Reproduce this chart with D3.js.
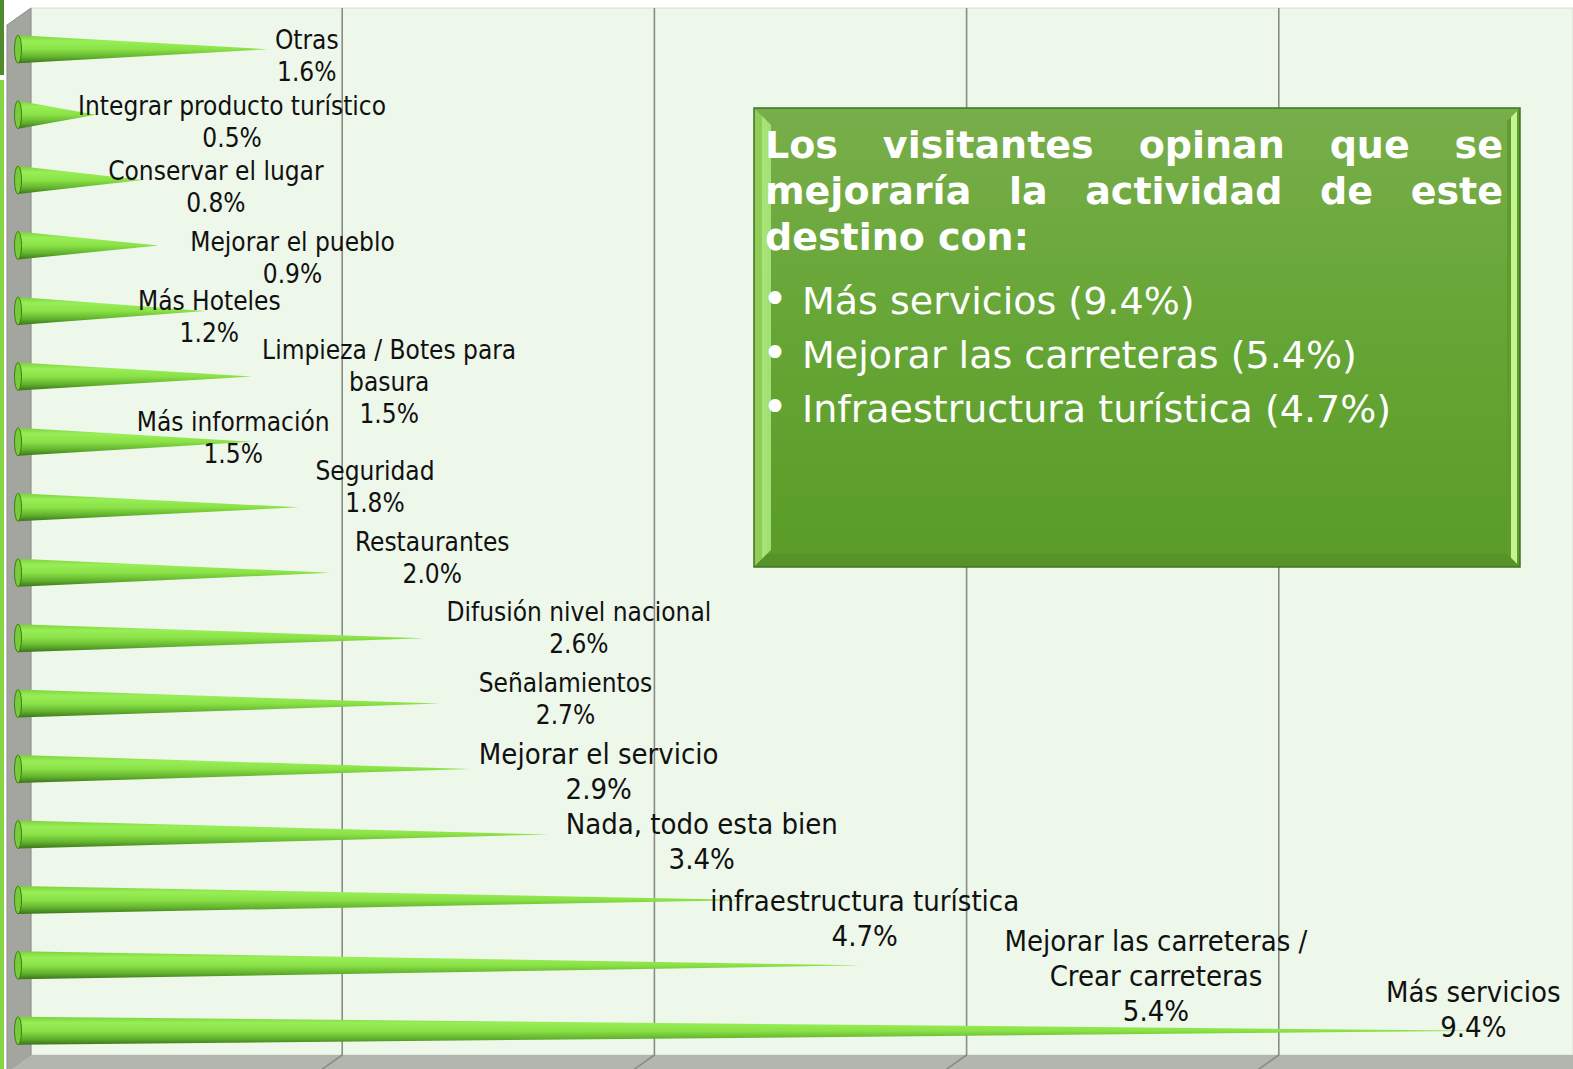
<!DOCTYPE html>
<head>
<meta charset="utf-8">
<style>
body{margin:0;background:white;overflow:hidden;}
text{font-family:"DejaVu Sans Condensed","DejaVu Sans",sans-serif;font-stretch:condensed;}
.box text{font-family:"DejaVu Sans",sans-serif;font-stretch:normal;}
.grid{stroke:#8a8c88;stroke-width:1.6px;fill:none;}
.lbl{fill:#111;}
</style>
</head>
<body>
<svg width="1573" height="1069"></svg>
<script src="https://d3js.org/d3.v7.min.js"></script>
<script>

// chart data (top to bottom as drawn)
var categories = ["Otras", "Integrar producto turístico", "Conservar el lugar", "Mejorar el pueblo",
  "Más Hoteles", "Limpieza / Botes para\nbasura", "Más información", "Seguridad", "Restaurantes",
  "Difusión nivel nacional", "Señalamientos", "Mejorar el servicio", "Nada, todo esta bien",
  "infraestructura turística", "Mejorar las carreteras /\nCrear carreteras", "Más servicios"];
var values = [1.6, 0.5, 0.8, 0.9, 1.2, 1.5, 1.5, 1.8, 2.0, 2.6, 2.7, 2.9, 3.4, 4.7, 5.4, 9.4];
var tickValues = [2, 4, 6, 8];

// where excel left each data label, relative to the cone tip
var labelOffset = [[39,-10],[136,-9],[73,-9],[134,-4],[4,-10],[137,-27],[-19,-20],[76,-37],
  [102,-31],[155,-27],[126,-21],[128,-15],[153,-11],[113,1],[295,-25],[-12,-39]];

var summaryTitle = [["Los", "visitantes", "opinan", "que", "se"],
  ["mejoraría", "la", "actividad", "de", "este"],
  ["destino", "con:"]];
var summaryItems = ["Más servicios (9.4%)", "Mejorar las carreteras (5.4%)", "Infraestructura turística (4.7%)"];

var svg = d3.select("svg"),
    width = +svg.attr("width"),
    height = +svg.attr("height");

// 3d box: front plane -> back plane offset
var DX = 24, DY = -17;
var front = {left: 7, top: 25, bottom: 1072};
var back = {left: front.left + DX, top: front.top + DY, bottom: front.bottom + DY};

// mid plane, where the cones live
var x = d3.scaleLinear().domain([0, 10]).range([18, 18 + 1561]);
var y = d3.scaleBand().domain(categories).range([front.top + DY / 2, front.bottom + DY / 2]);

var defs = svg.append("defs");
var g1 = defs.append("linearGradient").attr("id", "cone").attr("x1", 0).attr("y1", 0).attr("x2", 0).attr("y2", 1);
[[0, "#7cd23a"], [0.22, "#98ee56"], [0.5, "#8be247"], [0.78, "#62b22e"], [1, "#3b7318"]].forEach(function(s) {
  g1.append("stop").attr("offset", s[0]).attr("stop-color", s[1]);
});
var g2 = defs.append("linearGradient").attr("id", "face").attr("x1", 0).attr("y1", 0).attr("x2", 0).attr("y2", 1);
[[0, "#78ae4a"], [0.5, "#65a535"], [1, "#5a9c27"]].forEach(function(s) {
  g2.append("stop").attr("offset", s[0]).attr("stop-color", s[1]);
});

// slide edge strip
svg.append("rect").attr("x", 0).attr("y", 0).attr("width", 4).attr("height", 75).attr("fill", "#4f8a2b");
svg.append("rect").attr("x", 0).attr("y", 80).attr("width", 4).attr("height", height - 80).attr("fill", "#84d444");

// back wall
svg.append("rect")
  .attr("x", back.left).attr("y", back.top)
  .attr("width", width - back.left).attr("height", back.bottom - back.top)
  .attr("fill", "#edf7ea").attr("stroke", "#d6dcd3").attr("stroke-width", 1);

// left wall
svg.append("polygon")
  .attr("points", [[front.left, front.top], [back.left, back.top], [back.left, back.bottom], [front.left, front.bottom]].join(" "))
  .attr("fill", "#a3a69f").attr("stroke", "#8c8f89").attr("stroke-width", 1);

// floor
svg.append("polygon")
  .attr("points", [[back.left, back.bottom], [width, back.bottom], [width, front.bottom], [front.left, front.bottom]].join(" "))
  .attr("fill", "#b1b6ae");

// gridlines on wall and floor
var gl = svg.append("g");
tickValues.forEach(function(t) {
  var bx = x(t) + DX / 2;
  gl.append("path").attr("class", "grid")
    .attr("d", "M" + bx + "," + back.top + "V" + back.bottom + "L" + (bx - DX) + "," + (back.bottom - DY));
});

// cones
var R = 14;
var cones = svg.append("g").selectAll("g")
  .data(values)
  .enter().append("g");

cones.append("path")
  .attr("d", function(d, i) {
    var cy = y(categories[i]) + y.bandwidth() / 2;
    return "M" + x(0) + "," + (cy - R) + "L" + x(d) + "," + cy + "L" + x(0) + "," + (cy + R) + "Z";
  })
  .attr("fill", "url(#cone)");

cones.append("ellipse")
  .attr("cx", x(0))
  .attr("cy", function(d, i) { return y(categories[i]) + y.bandwidth() / 2; })
  .attr("rx", 3.5).attr("ry", R)
  .attr("fill", "#78cc3a").attr("stroke", "#3f7a1a").attr("stroke-width", 1);

// data labels
var fmt = d3.format(".1f");
var labels = svg.append("g").selectAll("text")
  .data(values)
  .enter().append("text")
  .attr("class", "lbl")
  .attr("text-anchor", "middle")
  .style("font-size", function(d, i) { return i >= 11 ? "29px" : "26px"; })
  .attr("transform", function(d, i) {
    var cy = y(categories[i]) + y.bandwidth() / 2;
    return "translate(" + (x(d) + labelOffset[i][0]) + "," + (cy + labelOffset[i][1]) + ")";
  });

labels.each(function(d, i) {
  var lines = categories[i].split("\n").concat([fmt(d) + "%"]);
  var lh = i >= 11 ? 35 : 32;
  d3.select(this).selectAll("tspan")
    .data(lines)
    .enter().append("tspan")
    .attr("x", 0)
    .attr("y", function(t, k) { return k * lh; })
    .attr("dy", "0.36em")
    .text(function(t) { return t; });
});

// summary box
var box = {x: 754, y: 108, w: 766, h: 459, b: 13};
var sb = svg.append("g").attr("class", "box");
sb.append("rect").attr("x", box.x).attr("y", box.y).attr("width", box.w).attr("height", box.h)
  .attr("fill", "url(#face)");
var bx0 = box.x, by0 = box.y, bx1 = box.x + box.w, by1 = box.y + box.h, b = box.b;
sb.append("polygon").attr("points", [[bx0, by0], [bx0 + b, by0 + b], [bx0 + b, by1 - b], [bx0, by1]].join(" "))
  .attr("fill", "#8fcc58");
sb.append("polygon").attr("points", [[bx0 + 8, by0 + 8], [bx0 + b + 4, by0 + b + 4], [bx0 + b + 4, by1 - b - 4], [bx0 + 8, by1 - 8]].join(" "))
  .attr("fill", "#a9e77a").attr("opacity", 0.9);
sb.append("polygon").attr("points", [[bx1, by0], [bx1 - b, by0 + b], [bx1 - b, by1 - b], [bx1, by1]].join(" "))
  .attr("fill", "#5f9b2f");
sb.append("polygon").attr("points", [[bx1 - 3, by0 + 3], [bx1 - 9, by0 + 9], [bx1 - 9, by1 - 9], [bx1 - 3, by1 - 3]].join(" "))
  .attr("fill", "#c4f48e");
sb.append("polygon").attr("points", [[bx0, by1], [bx0 + b, by1 - b], [bx1 - b, by1 - b], [bx1, by1]].join(" "))
  .attr("fill", "#55922a");
sb.append("rect").attr("x", box.x).attr("y", box.y).attr("width", box.w).attr("height", box.h)
  .attr("fill", "none").attr("stroke", "#3e7420").attr("stroke-width", 1.5);

// justified title
var tx0 = 765, tx1 = 1503;
summaryTitle.forEach(function(words, li) {
  var by = 158 + li * 46;
  var ts = words.map(function(w) {
    return sb.append("text").attr("y", by).attr("fill", "white")
      .style("font-size", "38px").style("font-weight", "bold").text(w);
  });
  var ws = ts.map(function(t) { return t.node().getComputedTextLength(); });
  var last = li === summaryTitle.length - 1;
  var gap = last ? 13 : (tx1 - tx0 - d3.sum(ws)) / (words.length - 1);
  var cx = tx0;
  ts.forEach(function(t, k) { t.attr("x", cx); cx += ws[k] + gap; });
});

summaryItems.forEach(function(s, k) {
  var by = 314 + k * 54;
  sb.append("text").attr("x", 762).attr("y", by).attr("fill", "white")
    .style("font-size", "44px").text("•");
  sb.append("text").attr("x", 802).attr("y", by).attr("fill", "white")
    .style("font-size", "38px").text(s);
});

</script>
</body>
